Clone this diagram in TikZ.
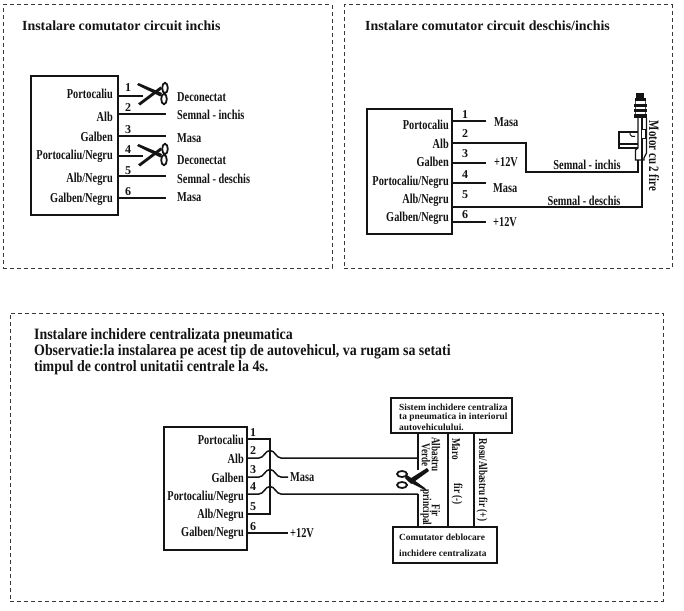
\documentclass[tikz,border=0pt]{standalone}
\usepackage{fontspec}
\setmainfont{Liberation Serif}
\newfontfamily\condfont[FakeStretch=0.76]{Liberation Serif}
\newfontfamily\notefont[FakeStretch=0.88]{Liberation Serif}
\usetikzlibrary{calc}
\definecolor{ink}{gray}{0.08}
\tikzset{
  x=1pt,y=-1pt,
  panel/.style={draw=ink!85,line width=1pt,dash pattern=on 4pt off 3pt},
  wire/.style={draw=ink,line width=1.5pt},
  unitbox/.style={draw=ink,line width=1.5pt},
  lab/.style={inner sep=0pt,text=ink,font=\condfont\bfseries\fontsize{13.6}{13.6}\selectfont},
  rlab/.style={lab,anchor=east},
  llab/.style={lab,anchor=west},
  num/.style={inner sep=0pt,text=ink,font=\bfseries\fontsize{12}{12}\selectfont},
  title/.style={inner sep=0pt,anchor=west,text=ink,font=\bfseries\fontsize{13.9}{13.9}\selectfont},
  note/.style={inner sep=0pt,anchor=west,text=ink,font=\notefont\bfseries\fontsize{15.8}{15.8}\selectfont},
  boxtext/.style={inner sep=0pt,anchor=west,text=ink,font=\bfseries\fontsize{9.4}{9.4}\selectfont},
  vert/.style={lab,rotate=-90,font=\condfont\bfseries\fontsize{12}{12}\selectfont},
  scissors/.pic={
    \fill[ink] (-14,-10) -- (-12.5,-12) -- (11,-2) -- (9.5,1.5) -- cycle;
    \fill[ink] (-13,8.5) -- (-11,10.5) -- (11,-6) -- (9.5,-8.5) -- cycle;
    \draw[ink,line width=1.8pt] (14,-7) ellipse (2.8 and 5.2);
    \draw[ink,line width=1.8pt] (13,4) ellipse (2.8 and 5.2);
  }
}
\begin{document}
\begin{tikzpicture}
\useasboundingbox (0,0) rectangle (684,610);
% ---------- panel frames
\node[panel,minimum width=329pt,minimum height=263pt,inner sep=0pt] (p1) at (167.5,136.5) {};
\node[panel,minimum width=328pt,minimum height=263pt,inner sep=0pt] (p2) at (508,136.5) {};
\node[panel,minimum width=653pt,minimum height=288pt,inner sep=0pt] (p3) at (336.5,457) {};
\node[title] (t1) at (22,25.5) {Instalare comutator circuit inchis};
\node[title] (t2) at (365,25.5) {Instalare comutator circuit deschis/inchis};
\node[note] (n1) at (34,336) {Instalare inchidere centralizata pneumatica};
\node[note] (n2) at (34,352) {Observatie:la instalarea pe acest tip de autovehicul, va rugam sa setati};
\node[note] (n3) at (34,367.5) {timpul de control unitatii centrale la 4s.};
% ---------- panel 1
\node[unitbox,minimum width=87pt,minimum height=139pt,inner sep=0pt] (a) at (74.5,145.5) {};
\node[rlab] (al1) at (113,94) {Portocaliu};
\node[rlab] (al2) at (113,117) {Alb};
\node[rlab] (al3) at (113,137) {Galben};
\node[rlab] (al4) at (113,156.5) {Portocaliu/Negru};
\node[rlab] (al5) at (113,179) {Alb/Negru};
\node[rlab] (al6) at (113,199) {Galben/Negru};
\foreach \n/\y in {1/88,2/108,3/130,4/150,5/171,6/192}{\node[num] (an\n) at (128,\y) {\n};}
\node[llab] (ar1) at (177,97) {Deconectat};
\node[llab] (ar2) at (177,114.5) {Semnal - inchis};
\node[llab] (ar3) at (177,138) {Masa};
\node[llab] (ar4) at (177,160) {Deconectat};
\node[llab] (ar5) at (177,179) {Semnal - deschis};
\node[llab] (ar6) at (177,197.5) {Masa};
\foreach \n/\y/\e in {1/96/143,2/114/166,3/136/166,4/156/143,5/176/166,6/198/166}{
  \coordinate (as\n) at (a.east |- 0,\y);
  \coordinate (ae\n) at (\e,\y);
  \draw[wire] (as\n) -- (ae\n);
}
\pic at (151,95) {scissors};
\pic at (151,156) {scissors};
% ---------- panel 2
\node[unitbox,minimum width=85pt,minimum height=125pt,inner sep=0pt] (b) at (409.5,171.5) {};
\node[rlab] (bl1) at (449,125) {Portocaliu};
\node[rlab] (bl2) at (449,144) {Alb};
\node[rlab] (bl3) at (449,162) {Galben};
\node[rlab] (bl4) at (449,182) {Portocaliu/Negru};
\node[rlab] (bl5) at (449,200) {Alb/Negru};
\node[rlab] (bl6) at (449,218) {Galben/Negru};
\foreach \n/\y in {1/115,2/134,3/154,4/175,5/195,6/215}{\node[num] (bn\n) at (465,\y) {\n};}
\foreach \n/\y in {1/121,3/163,4/183,6/222}{
  \coordinate (bs\n) at (b.east |- 0,\y);
  \coordinate (be\n) at (486,\y);
  \draw[wire] (bs\n) -- (be\n);
}
\node[llab] (br1) at (494,122) {Masa};
\node[llab] (br3) at (494,162) {+12V};
\node[llab] (br4) at (493,188) {Masa};
\node[llab] (br6) at (493,222) {+12V};
\node[lab] (bs) at (587,164.5) {Semnal - inchis};
\node[lab] (bd) at (584,200.5) {Semnal - deschis};
\node[vert] (bm) at (654,156) {\fontsize{14.3}{14.3}\selectfont Motor cu 2 fire};
% motor
\fill[ink] (636,93) rectangle (644,99);
\fill[ink] (634.5,98) rectangle (646,101);
\fill[ink] (633.5,104) rectangle (646.5,107);
\fill[ink] (633.5,109) rectangle (646.5,112);
\fill[ink] (633.5,114) rectangle (646.5,118);
\draw[ink!75,line width=.7pt] (635,101) -- (635,104) (645,101) -- (645,104) (635,107) -- (635,109) (645,107) -- (645,109) (635,112)--(635,114) (645,112)--(645,114);
\draw[ink,line width=1.2pt] (646.5,118) -- (646.5,153) -- (644,158) -- (644,160) -- (635.5,160) -- (635.5,150) -- (638,148) -- (638,118);
\draw[ink,line width=1.2pt] (638,132) -- (619,132) -- (619,148) -- (638,148);
\fill[ink] (619,142.5) rectangle (638,144.5);
\fill[ink] (619,146.5) rectangle (638,148.5);
\draw[ink,line width=1pt] (630,132) arc (200:60:3.5);
\draw[wire] (642,118) -- (642,207) -- (b.east |- 0,207);
\draw[ink,line width=1pt,fill=white] (641,129) rectangle (645,138);
\draw[wire] (638,160) -- (638,172) -- (526,172) -- (526,143) -- (b.east |- 0,143);
% ---------- panel 3
\node[unitbox,minimum width=83pt,minimum height=123pt,inner sep=0pt] (c) at (205.5,488.5) {};
\node[rlab] (cl1) at (244,440) {Portocaliu};
\node[rlab] (cl2) at (244,459) {Alb};
\node[rlab] (cl3) at (244,478) {Galben};
\node[rlab] (cl4) at (244,497) {Portocaliu/Negru};
\node[rlab] (cl5) at (244,515) {Alb/Negru};
\node[rlab] (cl6) at (244,533.5) {Galben/Negru};
\foreach \n/\y in {1/433,2/451,3/470,4/487,5/507,6/527}{\node[num] (cn\n) at (253,\y) {\n};}
\node[unitbox,minimum width=121pt,minimum height=35pt,inner sep=0pt] (top) at (451.5,415.5) {};
\node[unitbox,minimum width=104pt,minimum height=36pt,inner sep=0pt] (bot) at (445,545) {};
\node[boxtext] (tt1) at (399,407) {Sistem inchidere centraliza};
\node[boxtext] (tt2) at (399,417.3) {ta pneumatica in interiorul};
\node[boxtext] (tt3) at (399,427.3) {autovehiculului.};
\node[boxtext] (bt1) at (399,537) {Comutator deblocare};
\node[boxtext] (bt2) at (399,553) {inchidere centralizata};
\node[llab] (cm) at (290,477.5) {Masa};
\node[llab] (cv) at (290,533) {+12V};
\coordinate (j1) at (270,439);
\coordinate (j5) at (270,514);
\draw[wire] (c.east |- 0,439) -- (j1) -- (j5) -- (c.east |- 0,514);
\coordinate (up) at (418,433.5);
\coordinate (lo) at (418,527);
\draw[wire] (up) -- (418,470);
\draw[wire] (418,494) -- (lo);
\foreach \y/\e in {458/418,477/288,494/418}{
  \draw[wire] (c.east |- 0,\y) -- (259,\y) .. controls (264,\y) and (265,{\y-7.5}) .. (270,{\y-7.5}) .. controls (275,{\y-7.5}) and (276,\y) .. (281,\y) -- (\e,\y);
}
\draw[wire] (c.east |- 0,533) -- (288,533);
\draw[wire] (top.south -| 448,0) -- (bot.north -| 448,0);
\draw[wire] (top.south -| 474,0) -- (bot.north -| 474,0);
\node[vert] (v1) at (436,454.5) {Albastru};
\node[vert] (v2) at (426,455) {Verde};
\node[vert] (v3) at (456,449) {Maro};
\node[vert] (v4) at (457,494) {fir (-)};
\node[vert] (v5) at (482,480) {Rosu/Albastru fir (+)};
\node[vert] (v6) at (436,510.5) {Fir};
\node[vert] (v7) at (426,507.5) {principal};
\begin{scope}[shift={(414,480)},xscale=-1]
\fill[ink] (-15,-9) -- (-13,-12) -- (6,0) -- (3,4) -- cycle;
\fill[ink] (-13,11) -- (-11,8) -- (7,-5) -- (9,-2) -- (5,2) -- cycle;
\draw[ink,line width=1.8pt] (12,-6) ellipse (5 and 3);
\draw[ink,line width=1.8pt] (12,5) ellipse (5 and 3);
\end{scope}
\end{tikzpicture}
\end{document}
